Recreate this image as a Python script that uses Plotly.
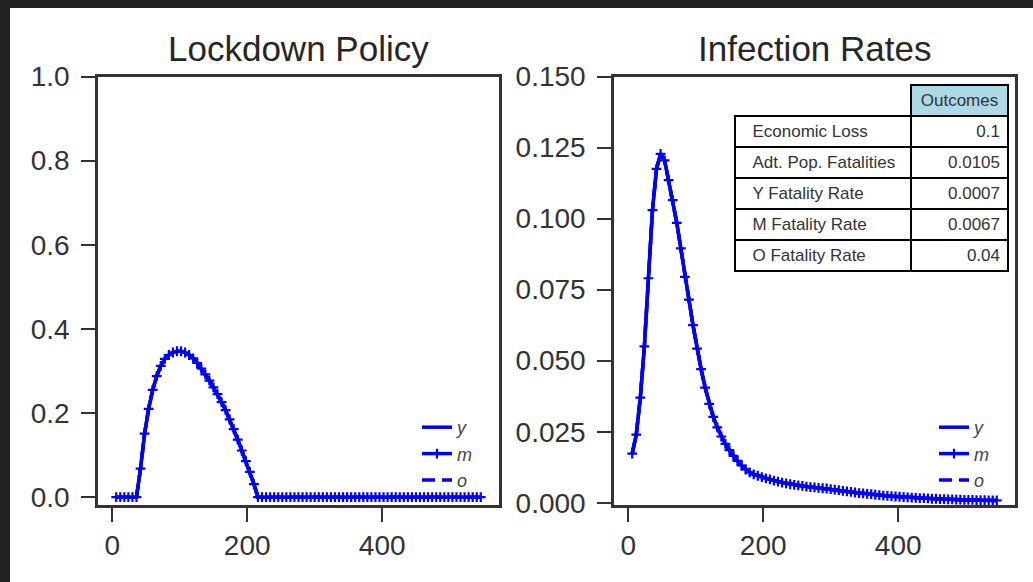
import plotly.graph_objects as go

W, H = 1033, 582

# ---------------- data ----------------
days = list(range(6, 547, 6))  # 91 sample days

policy = [
    0.0, 0.0, 0.0, 0.0, 0.0, 0.0,
    0.068, 0.151, 0.210, 0.255, 0.288, 0.312, 0.329, 0.338, 0.344, 0.347,
    0.347, 0.344, 0.338, 0.330, 0.319, 0.306, 0.292, 0.277, 0.261, 0.245,
    0.226, 0.207, 0.185, 0.162, 0.137, 0.111, 0.086, 0.060, 0.031, 0.0,
    0.0, 0.0, 0.0, 0.0, 0.0, 0.0, 0.0, 0.0, 0.0, 0.0, 0.0,
    0.0, 0.0, 0.0, 0.0, 0.0, 0.0, 0.0, 0.0, 0.0, 0.0, 0.0,
    0.0, 0.0, 0.0, 0.0, 0.0, 0.0, 0.0, 0.0, 0.0, 0.0, 0.0,
    0.0, 0.0, 0.0, 0.0, 0.0, 0.0, 0.0, 0.0, 0.0, 0.0, 0.0,
    0.0, 0.0, 0.0, 0.0, 0.0, 0.0, 0.0, 0.0, 0.0, 0.0, 0.0,
]

infection = [
    0.0173, 0.0240, 0.0370, 0.0550, 0.0790, 0.1030, 0.1175, 0.1228, 0.1205, 0.1135,
    0.1065, 0.0985, 0.0895, 0.0795, 0.0715, 0.0625, 0.0542, 0.0470, 0.0405, 0.0348,
    0.0302, 0.0265, 0.0233, 0.0207, 0.0185, 0.0165, 0.0147, 0.0131, 0.0117, 0.0107,
    0.0100, 0.0095, 0.0090, 0.0086, 0.0082, 0.0078, 0.0074, 0.0071, 0.0068, 0.0065,
    0.0063, 0.0061, 0.0059, 0.0057, 0.0055, 0.0054, 0.0052, 0.0051, 0.0050, 0.0048,
    0.0046, 0.0044, 0.0042, 0.0040, 0.0038, 0.0036, 0.0034, 0.0033, 0.0031, 0.0030,
    0.0028, 0.0027, 0.0025, 0.0024, 0.0023, 0.0022, 0.0021, 0.0020, 0.0019, 0.0018,
    0.0017, 0.0016, 0.0016, 0.0015, 0.0014, 0.0014, 0.0013, 0.0013, 0.0012, 0.0012,
    0.0011, 0.0011, 0.0010, 0.0010, 0.0010, 0.0009, 0.0009, 0.0009, 0.0008, 0.0008,
    0.0008,
]
assert len(days) == len(policy) == len(infection)

series_names = ["y", "m", "o"]
titles = ["Lockdown Policy", "Infection Rates"]

x_ticks = [0, 200, 400]
left_y_ticks = [0.0, 0.2, 0.4, 0.6, 0.8, 1.0]
left_y_labels = ["0.0", "0.2", "0.4", "0.6", "0.8", "1.0"]
right_y_ticks = [0.0, 0.025, 0.05, 0.075, 0.1, 0.125, 0.15]
right_y_labels = ["0.000", "0.025", "0.050", "0.075", "0.100", "0.125", "0.150"]

table_header = ["", "Outcomes"]
table_rows = ["Economic Loss", "Adt. Pop. Fatalities", "Y Fatality Rate",
              "M Fatality Rate", "O Fatality Rate"]
table_vals = ["0.1", "0.0105", "0.0007", "0.0067", "0.04"]

# ---------------- helpers ----------------
FONT = "Liberation Sans, Arial, Helvetica, sans-serif"
AX = "#333333"
BLUE = "#0000ff"


def fx(p):
    return p / W


def fy(p):
    return 1 - p / H


fig = go.Figure()

style = {
    "y": dict(mode="lines", line=dict(color=BLUE, width=3.5, dash="solid")),
    "m": dict(mode="lines+markers", line=dict(color=BLUE, width=3.5, dash="solid"),
              marker=dict(symbol="cross-thin", size=7, color=BLUE,
                          line=dict(color=BLUE, width=2.2))),
    "o": dict(mode="lines", line=dict(color=BLUE, width=3.5, dash="13px,7px")),
}

for xa, ya, data, leg in [("x", "y", policy, "legend"), ("x2", "y2", infection, "legend2")]:
    for name in series_names:
        fig.add_trace(go.Scatter(x=days, y=data, name=name, xaxis=xa, yaxis=ya,
                                 legend=leg, **style[name]))

fig.add_trace(go.Table(
    domain=dict(x=[fx(735), fx(1008)], y=[fy(283), fy(85)]),
    columnwidth=[176, 97],
    header=dict(values=table_header,
                fill_color=["rgba(0,0,0,0)", "#add8e6"],
                line=dict(color=["rgba(0,0,0,0)", "black"], width=2),
                font=dict(family=FONT, size=17, color="#333333"),
                align="center", height=31),
    cells=dict(values=[["\u00a0\u00a0" + r for r in table_rows], table_vals],
               fill_color="white",
               line=dict(color="black", width=2),
               font=dict(family=FONT, size=17, color="#333333"),
               align=["left", "right"], height=31),
))

axis_common = dict(showline=True, linewidth=2.5, linecolor=AX, mirror=True,
                   ticks="outside", ticklen=14, tickwidth=2, tickcolor=AX,
                   showgrid=False, zeroline=False,
                   tickfont=dict(family=FONT, size=28, color=AX))

top, bottom = 76.5, 505
fig.update_layout(
    width=W, height=H,
    margin=dict(l=0, r=0, t=0, b=0, autoexpand=False),
    paper_bgcolor="white", plot_bgcolor="white",
    font=dict(family=FONT),
    xaxis=dict(domain=[fx(98), fx(499)], range=[-21, 573], anchor="y",
               tickvals=x_ticks, ticklabelstandoff=0, **axis_common),
    yaxis=dict(domain=[fy(bottom), fy(top)], range=[-0.0185, 1.0], anchor="x",
               tickvals=left_y_ticks, ticktext=left_y_labels,
               ticklabelstandoff=6, **axis_common),
    xaxis2=dict(domain=[fx(614), fx(1015)], range=[-21, 573], anchor="y2",
                tickvals=x_ticks, ticklabelstandoff=0, **axis_common),
    yaxis2=dict(domain=[fy(bottom), fy(top)], range=[-0.0008, 0.150], anchor="x2",
                tickvals=right_y_ticks, ticktext=right_y_labels,
                ticklabelstandoff=6, **axis_common),
    legend=dict(x=fx(417), y=fy(409), xanchor="left", yanchor="top",
                bgcolor="rgba(0,0,0,0)",
                font=dict(family=FONT, size=18, color="#444444", style="italic"),
                tracegroupgap=0),
    legend2=dict(x=fx(934), y=fy(409), xanchor="left", yanchor="top",
                 bgcolor="rgba(0,0,0,0)",
                 font=dict(family=FONT, size=18, color="#444444", style="italic"),
                 tracegroupgap=0),
    showlegend=True,
)

for i, t in enumerate(titles):
    cx = (98 + 499) / 2 if i == 0 else (614 + 1015) / 2
    fig.add_annotation(text=t, x=fx(cx), y=fy(48), xref="paper", yref="paper",
                       xanchor="center", yanchor="middle", showarrow=False,
                       font=dict(family=FONT, size=35, color="#262626"))

# dark frame bands at top and left edges of the screenshot
fig.add_shape(type="rect", xref="paper", yref="paper", x0=0, x1=1,
              y0=fy(8), y1=1, fillcolor="#222222", line=dict(width=0))
fig.add_shape(type="rect", xref="paper", yref="paper", x0=0, x1=fx(10),
              y0=0, y1=1, fillcolor="#222222", line=dict(width=0))

fig.write_html("out.html")
